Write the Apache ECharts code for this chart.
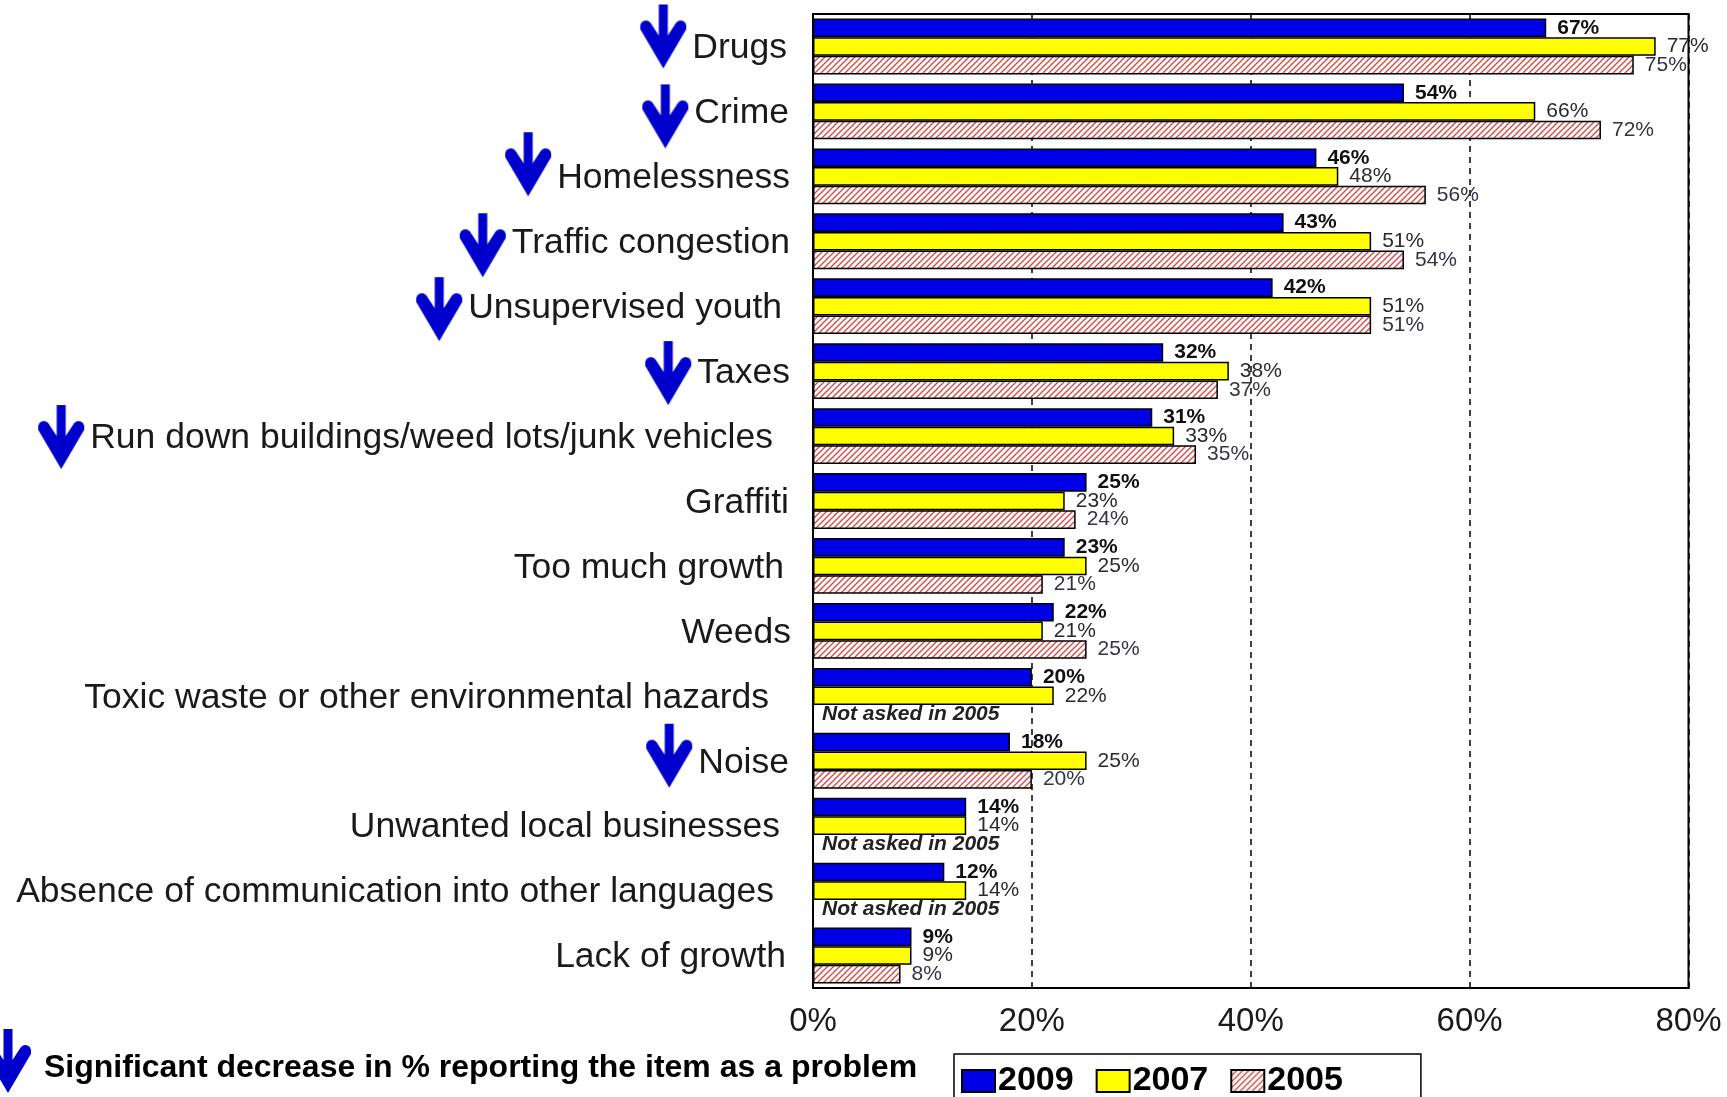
<!DOCTYPE html>
<html>
<head>
<meta charset="utf-8">
<script src="https://cdn.jsdelivr.net/npm/echarts@6/dist/echarts.min.js"></script>
<style>
  html, body { margin: 0; padding: 0; background: #fff; }
  #chart { width: 1727px; height: 1097px; }
</style>
</head>
<body>
<div id="chart"></div>
<script>
// Neighbourhood problems: share of residents reporting each item as a problem
const categories = [
  'Drugs', 'Crime', 'Homelessness', 'Traffic congestion', 'Unsupervised youth',
  'Taxes', 'Run down buildings/weed lots/junk vehicles', 'Graffiti',
  'Too much growth', 'Weeds', 'Toxic waste or other environmental hazards',
  'Noise', 'Unwanted local businesses',
  'Absence of communication into other languages', 'Lack of growth'
];
const values2009 = [67, 54, 46, 43, 42, 32, 31, 25, 23, 22, 20, 18, 14, 12, 9];
const values2007 = [77, 66, 48, 51, 51, 38, 33, 23, 25, 21, 22, 25, 14, 14, 9];
const values2005 = [75, 72, 56, 54, 51, 37, 35, 24, 21, 25, null, 20, null, null, 8];
// Items with a significant decrease
const decreased = [
  'Drugs', 'Crime', 'Homelessness', 'Traffic congestion', 'Unsupervised youth',
  'Taxes', 'Run down buildings/weed lots/junk vehicles', 'Noise'
];
const seriesNames = ['2009', '2007', '2005'];
const xTickMin = 0, xTickMax = 80, xTickStep = 20;
const notAskedText = 'Not asked in 2005';
const footnoteText = 'Significant decrease in % reporting the item as a problem';

const FONT = '"Liberation Sans", Arial, sans-serif';
const BLUE = '#0000e6';
const ARROW_BLUE = '#0000cc';

// Per-label layout tweaks: right-hand nudge of the text, vertical shift of the arrow
const labelNudge = [4, 2, 1, 1, 9, 1, 18, 2, 7, 0, 22, 2, 11, 17, 5];
const arrowShift = [-10, 5, -12, 4, 3, 2, 1, 0, 0, 0, 0, -5, 0, 0, 0];

const ARROW_W = 48, ARROW_H = 64, ARROW_GAP = 5;

// Down arrow drawn on a canvas; dy moves it off the centre of its box
function makeArrow(dy, gap) {
  const pad = Math.abs(dy);
  const c = document.createElement('canvas');
  c.width = ARROW_W + gap;
  c.height = ARROW_H + 2 * pad;
  const ctx = c.getContext('2d');
  ctx.translate(0, pad + dy);
  ctx.scale(ARROW_W / 48, ARROW_H / 62);
  ctx.fillStyle = ARROW_BLUE;
  const p = new Path2D('M24 62 L1 24 Q0 16 6.5 15.5 Q10 15.5 12.5 19.5 L19.5 30 L19.5 0 L28.5 0 ' +
    'L28.5 30 L35.5 19.5 Q38 15.5 41.5 15.5 Q48 16 47 24 Z');
  ctx.fill(p);
  return c;
}
const arrowFootImg = makeArrow(0, 0);

// Diagonal hatch for the 2005 bars
function makeHatch() {
  const s = 6;
  const c = document.createElement('canvas');
  c.width = s; c.height = s;
  const ctx = c.getContext('2d');
  ctx.fillStyle = '#fff8f6';
  ctx.fillRect(0, 0, s, s);
  ctx.strokeStyle = '#c0504d';
  ctx.lineWidth = 1.3;
  ctx.beginPath();
  ctx.moveTo(-1, s + 1); ctx.lineTo(s + 1, -1);
  ctx.moveTo(-1, 1); ctx.lineTo(1, -1);
  ctx.moveTo(s - 1, s + 1); ctx.lineTo(s + 1, s - 1);
  ctx.stroke();
  return c;
}
const hatch = { image: makeHatch(), repeat: 'repeat' };

const rich = {};
categories.forEach(function (c, i) {
  rich['n' + i] = {
    fontFamily: FONT, fontSize: 35.5, color: '#1a1a1a', lineHeight: 42,
    padding: [4, labelNudge[i], 0, 0]
  };
  if (decreased.indexOf(c) >= 0) {
    const img = makeArrow(arrowShift[i], ARROW_GAP);
    rich['a' + i] = { width: img.width, height: img.height, backgroundColor: { image: img } };
  }
});

function valueLabel(bold, color) {
  return {
    show: true, position: 'right', distance: 11,
    fontFamily: FONT, fontSize: 21, color: color,
    fontWeight: bold ? 'bold' : 'normal',
    formatter: function (p) { return p.value + '%'; }
  };
}

const data2005 = values2005.map(function (v) {
  if (v === null) {
    return {
      value: 0,
      itemStyle: { color: 'rgba(0,0,0,0)', borderWidth: 0 },
      label: {
        show: true, position: 'right', distance: 9,
        formatter: notAskedText, fontStyle: 'italic', fontWeight: 'bold',
        fontSize: 21, color: '#222', fontFamily: FONT
      }
    };
  }
  return v;
});

const chart = echarts.init(document.getElementById('chart'), null, { renderer: 'canvas' });

chart.setOption({
  backgroundColor: '#ffffff',
  animation: false,
  grid: {
    left: 813, right: 38.5, top: 14, bottom: 109,
    show: true, borderColor: '#000', borderWidth: 2, backgroundColor: 'transparent'
  },
  xAxis: {
    type: 'value', min: xTickMin, max: xTickMax, interval: xTickStep,
    axisLine: { show: true, lineStyle: { color: '#000', width: 2 } },
    axisTick: { show: false },
    axisLabel: {
      fontFamily: FONT, fontSize: 33, color: '#1a1a1a', margin: 17,
      formatter: '{value}%'
    },
    splitLine: { show: true, lineStyle: { color: '#000', type: [6, 5], width: 1.5 } }
  },
  yAxis: {
    type: 'category', data: categories, inverse: true,
    axisLine: { show: true, lineStyle: { color: '#000', width: 2 } },
    axisTick: { show: false },
    axisLabel: {
      interval: 0, showMinLabel: true, showMaxLabel: true, hideOverlap: false,
      margin: 22, fontFamily: FONT, fontSize: 35.5, color: '#1a1a1a',
      formatter: function (name) {
        const i = categories.indexOf(name);
        const lead = rich['a' + i] ? '{a' + i + '| }' : '';
        return lead + '{n' + i + '|' + name + '}';
      },
      rich: rich
    },
    splitLine: { show: false }
  },
  legend: {
    data: seriesNames, left: 954, top: 1054, orient: 'horizontal',
    icon: 'rect',
    itemWidth: 33, itemHeight: 22, itemGap: 22,
    padding: [10, 78, 40, 7],
    borderColor: '#000', borderWidth: 1.5,
    selectedMode: false,
    textStyle: { fontFamily: FONT, fontSize: 34, fontWeight: 'bold', color: '#000', padding: [0, 0, 0, -2] }
  },
  series: [
    {
      name: seriesNames[0], type: 'bar', data: values2009,
      barGap: '0%', barCategoryGap: '14%',
      itemStyle: { color: BLUE, borderColor: '#000', borderWidth: 1.5 },
      label: valueLabel(true, '#111')
    },
    {
      name: seriesNames[1], type: 'bar', data: values2007,
      barGap: '0%', barCategoryGap: '14%',
      itemStyle: { color: '#ffff00', borderColor: '#000', borderWidth: 1.5 },
      label: valueLabel(false, '#2a2a2a')
    },
    {
      name: seriesNames[2], type: 'bar', data: data2005,
      barGap: '0%', barCategoryGap: '14%',
      itemStyle: { color: hatch, borderColor: '#000', borderWidth: 1.5 },
      label: valueLabel(false, '#333344')
    }
  ],
  graphic: [
    {
      type: 'image', left: -16, top: 1029,
      style: { image: arrowFootImg, width: ARROW_W, height: ARROW_H }
    },
    {
      type: 'text', left: 44, top: 1052,
      style: {
        text: footnoteText, fontFamily: FONT, fontSize: 32, fontWeight: 'bold', fill: '#000'
      }
    }
  ]
});
</script>
</body>
</html>
